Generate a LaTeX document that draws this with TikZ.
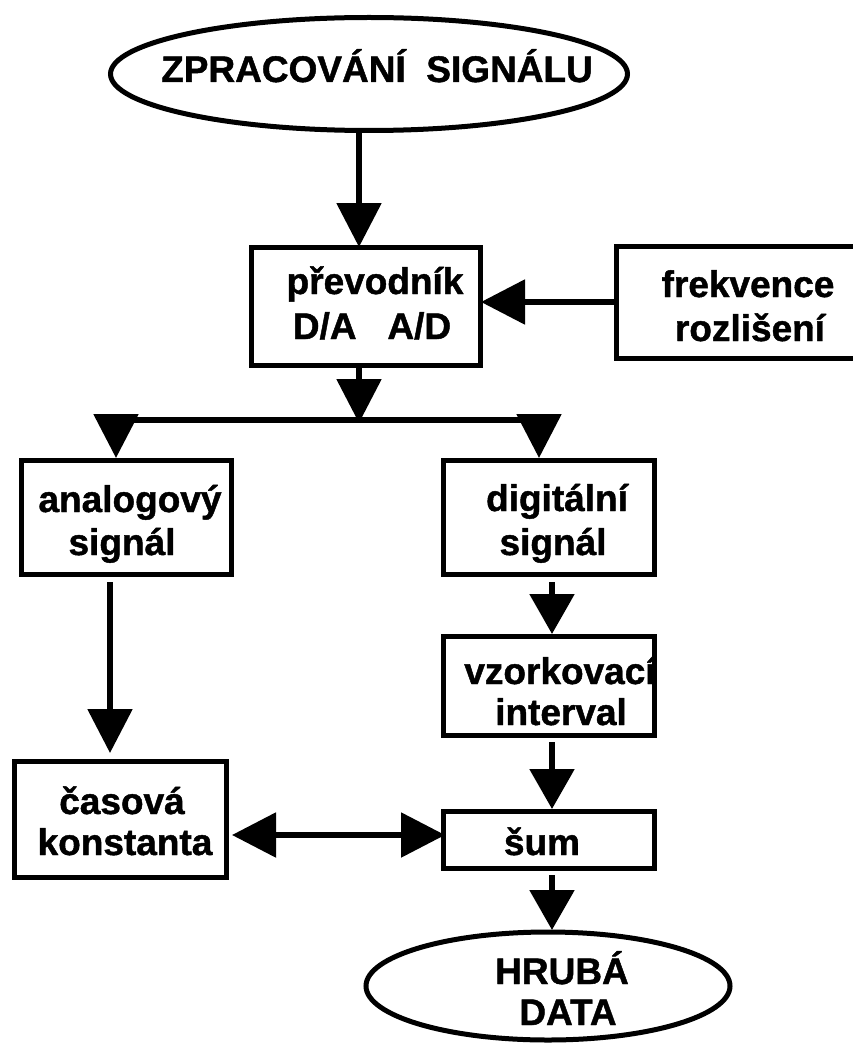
\documentclass[tikz,border=0pt]{standalone}
\usepackage{fontspec}
\setmainfont{Liberation Sans}[BoldFeatures={FakeBold=1.2}]
\usetikzlibrary{arrows.meta,shapes.geometric}
\begin{document}
\begin{tikzpicture}[x=1pt,y=-1pt,
  box/.style={draw, line width=5pt, rectangle, inner sep=0pt, outer sep=0pt},
  oval/.style={draw, line width=5pt, ellipse, inner sep=0pt, outer sep=0pt},
  txt/.style={anchor=base, inner sep=0pt, font=\fontsize{37}{44}\selectfont\bfseries},
  conn/.style={line width=5.5pt},
  arr/.style={conn, -{Triangle[width=44pt,length=44pt]}},
  sarr/.style={conn, -{Triangle[width=44pt,length=40pt]}},
  dblarr/.style={conn, {Triangle[width=44pt,length=44pt]}-{Triangle[width=44pt,length=44pt]}}
]
\useasboundingbox (0,0) rectangle (853,1043);
\clip (0,0) rectangle (853,1043);

% labels
\node[txt] (tTop)  at (377,82)   {ZPRACOVÁNÍ\ \ SIGNÁLU};
\node[txt] (tConvA) at (375,294) {převodník};
\node[txt] (tConvB) at (372,339) {D/A\ \ \ A/D};
\node[txt] (tFrekA) at (748,297) {frekvence};
\node[txt] (tFrekB) at (750,341) {rozlišení};
\node[txt] (tAnaA) at (130,512)  {analogový};
\node[txt] (tAnaB) at (122,555)  {signál};
\node[txt] (tDigA) at (557,511)  {digitální};
\node[txt] (tDigB) at (553,555)  {signál};
\node[txt] (tVzkA) at (560,684)  {vzorkovací};
\node[txt] (tVzkB) at (561,725)  {interval};
\node[txt] (tCasA) at (122,814)  {časová};
\node[txt] (tCasB) at (125,855)  {konstanta};
\node[txt] (tSum)  at (542,855)  {šum};
\node[txt] (tRawA) at (562,984)  {HRUBÁ};
\node[txt] (tRawB) at (568,1025) {DATA};

% outlines
\node[oval] (e1) at (369,74)  [minimum width=517pt, minimum height=113pt] {};
\node[box]  (conv) at (365.5,306) [minimum width=229pt, minimum height=118pt] {};
\node[box]  (frek) at (737,302)   [minimum width=242pt, minimum height=112pt] {};
\node[box]  (ana)  at (126,517)   [minimum width=210pt, minimum height=114pt] {};
\node[box]  (dig)  at (548.5,517) [minimum width=211pt, minimum height=114pt] {};
\node[box]  (vzk)  at (548.5,685.5) [minimum width=211pt, minimum height=99pt] {};
\node[box]  (cas)  at (120,819)   [minimum width=212pt, minimum height=116pt] {};
\node[box]  (sum)  at (548.5,839.5) [minimum width=211pt, minimum height=57pt] {};
\node[oval] (e2) at (548,986) [minimum width=364pt, minimum height=108pt] {};

% branching bus below the converter
\coordinate (split) at (359,420);
\coordinate (busL) at (116,420);
\coordinate (busR) at (539,420);

% connectors
\draw[arr] ([xshift=-10pt]e1.south) -- ([xshift=-10pt]e1.south |- conv.north);
\draw[arr, shorten >=1pt] (frek.west) -- (frek.west -| conv.east);
\draw[arr, shorten >=-3pt] (split |- conv.south) -- (split);
\draw[conn] (busL) -- (busR);
\draw[arr, shorten >=2pt] ([yshift=6pt]busL) -- (busL |- ana.north);
\draw[arr, shorten >=2pt] ([yshift=6pt]busR) -- (busR |- dig.north);
\draw[arr, shorten <=8pt, shorten >=8pt] ([xshift=-16pt]ana.south) -- ([xshift=-16pt]ana.south |- cas.north);
\draw[sarr, shorten <=8pt, shorten >=2pt] ([xshift=3.5pt]dig.south) -- ([xshift=3.5pt]dig.south |- vzk.north);
\draw[sarr, shorten <=7pt, shorten >=2pt] ([xshift=3.5pt]vzk.south) -- ([xshift=3.5pt]vzk.south |- sum.north);
\draw[sarr, shorten <=7pt, shorten >=2pt] ([xshift=3.5pt]sum.south) -- ([xshift=3.5pt]sum.south |- e2.north);
\draw[dblarr, shorten <=-2pt, shorten >=6pt] ([yshift=4.5pt]sum.west) -- ([yshift=4.5pt]sum.west -| cas.east);
\end{tikzpicture}
\end{document}
